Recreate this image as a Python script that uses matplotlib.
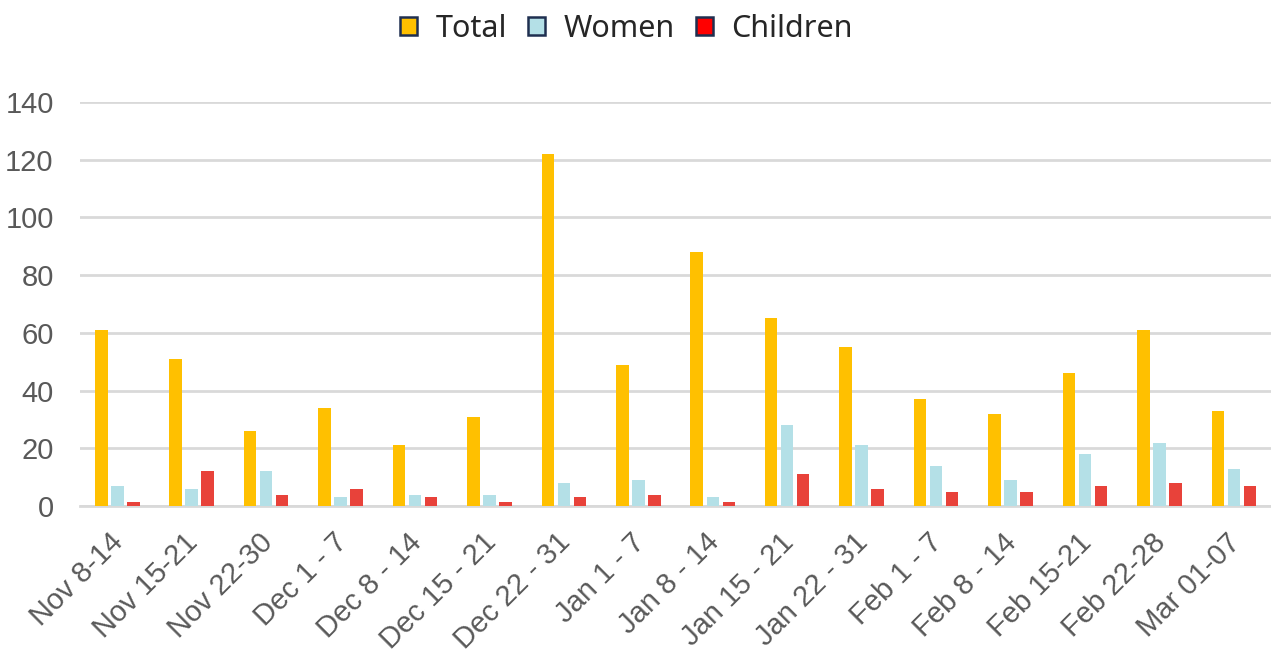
import matplotlib.pyplot as plt
import matplotlib.transforms as mtransforms
import numpy as np
from matplotlib.patches import Patch

# Weekly counts
weeks = ["Nov 8-14", "Nov 15-21", "Nov 22-30", "Dec 1 - 7", "Dec 8 - 14", "Dec 15 - 21",
         "Dec 22 - 31", "Jan 1 - 7", "Jan 8 - 14", "Jan 15 - 21", "Jan 22 - 31",
         "Feb 1 - 7", "Feb 8 - 14", "Feb 15-21", "Feb 22-28", "Mar 01-07"]
total = [61, 51, 26, 34, 21, 31, 122, 49, 88, 65, 55, 37, 32, 46, 61, 33]
women = [7, 6, 12, 3, 4, 4, 8, 9, 3, 28, 21, 14, 9, 18, 22, 13]
children = [1.5, 12, 4, 6, 3, 1.5, 3, 4, 1.5, 11, 6, 5, 5, 7, 8, 7]

series_names = ["Total", "Women", "Children"]
bar_colors = ["#FFC000", "#B4E0E7", "#E8423A"]
legend_colors = ["#FFC000", "#B4E0E7", "#FF0000"]

fig = plt.figure(figsize=(12.71, 6.53), dpi=100)
ax = fig.add_axes([0.063, 0.225, 0.937, 0.619])

x = np.arange(len(weeks))
w = 0.168
step = 0.215
for i, (vals, col) in enumerate(zip([total, women, children], bar_colors)):
    ax.bar(x + (i - 1) * step, vals, width=w, color=col, zorder=3)

ax.set_xlim(-0.5, len(weeks) - 0.5)
ax.set_ylim(0, 140)
ax.set_yticks(range(0, 141, 20))
ax.yaxis.grid(True, color="#D9D9D9", linewidth=2, zorder=0)
for s in ["top", "right", "left"]:
    ax.spines[s].set_visible(False)
ax.spines["bottom"].set_color("#D9D9D9")
ax.spines["bottom"].set_linewidth(2)
ax.tick_params(axis="both", length=0, labelsize=21, labelcolor="#595959")
ax.tick_params(axis="y", pad=19)
for lab in ax.get_yticklabels():
    lab.set_fontfamily("Liberation Sans")

ax.set_xticks(x)
ax.set_xticklabels(weeks, rotation=45, ha="right", rotation_mode="anchor",
                   fontfamily="Liberation Sans")
ax.tick_params(axis="x", pad=16)
# nudge rotated labels a little to the left
shift = mtransforms.ScaledTranslation(-0.08, 0, fig.dpi_scale_trans)
for lab in ax.get_xticklabels():
    lab.set_transform(lab.get_transform() + shift)

handles = [Patch(facecolor=c, edgecolor="#1F2F50", linewidth=1.8) for c in legend_colors]
fig.legend(handles, series_names, loc="center", bbox_to_anchor=(0.493, 0.956), ncol=3,
           frameon=False, prop={"family": "Noto Sans", "size": 22},
           handlelength=0.55, handleheight=0.55, handletextpad=0.6, columnspacing=0.7,
           labelcolor="#262626")

fig.savefig("out.png", dpi=100)
